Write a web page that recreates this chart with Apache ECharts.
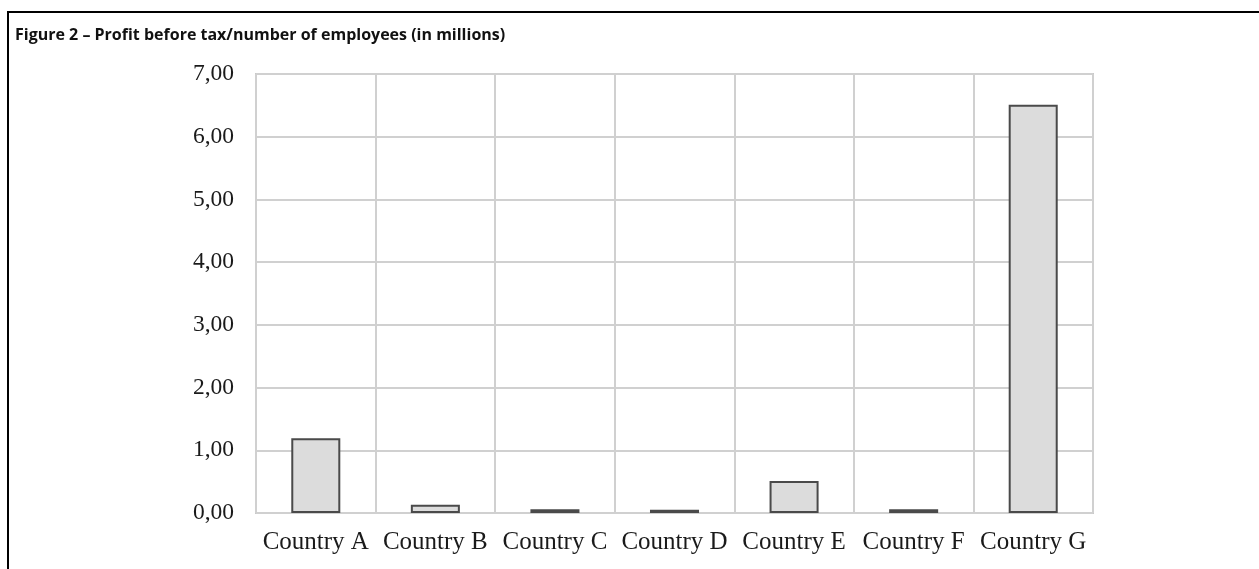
<!DOCTYPE html>
<html lang="en">
<head>
    <meta charset="UTF-8">
    <title>Figure 2</title>
    <style>
        body { margin: 0; background: #fff; }
    </style>
</head>
<body>
    <div id="main" style="width: 1259px;height:569px;"></div>
    <script src="https://cdn.jsdelivr.net/npm/echarts@6/dist/echarts.min.js"></script>
    <script>
        // data
        var countries = ['Country A', 'Country B', 'Country C', 'Country D', 'Country E', 'Country F', 'Country G'];
        var profitPerEmployee = [1.19, 0.13, 0.06, 0.05, 0.51, 0.06, 6.51];
        var yTicks = [0, 1, 2, 3, 4, 5, 6, 7];

        var myChart = echarts.init(document.getElementById('main'));

        var option = {
            backgroundColor: '#fff',
            animation: false,
            title: {
                text: 'Figure 2 \u2013 Profit before tax/number of employees (in millions)',
                left: 10,
                top: 22,
                textStyle: {
                    fontFamily: 'Open Sans',
                    fontWeight: 'bold',
                    fontSize: 16,
                    color: '#111'
                }
            },
            // frame around the figure (top and left rules)
            graphic: [
                {
                    type: 'polyline',
                    shape: { points: [[8, 569], [8, 12], [1259, 12]] },
                    style: { stroke: '#000', lineWidth: 2, fill: null }
                }
            ],
            grid: {
                left: 256,
                right: 166,
                top: 74,
                bottom: 56,
                show: true,
                borderColor: '#c8c8c8',
                borderWidth: 2
            },
            xAxis: {
                type: 'category',
                data: countries,
                boundaryGap: true,
                axisLine: { show: false },
                axisTick: { show: false },
                splitLine: { show: true, lineStyle: { color: '#d0d0d0', width: 2 } },
                axisLabel: {
                    margin: 17,
                    interval: 0,
                    fontFamily: 'Liberation Serif',
                    fontSize: 25,
                    color: '#1a1a1a'
                }
            },
            yAxis: {
                type: 'value',
                min: yTicks[0],
                max: yTicks[yTicks.length - 1],
                interval: 1,
                axisLine: { show: false },
                axisTick: { show: false },
                splitLine: { lineStyle: { color: '#d0d0d0', width: 2 } },
                axisLabel: {
                    margin: 22,
                    fontFamily: 'Liberation Serif',
                    fontSize: 23.5,
                    color: '#1a1a1a',
                    formatter: function (v) { return v.toFixed(2).replace('.', ','); }
                }
            },
            series: [
                {
                    type: 'bar',
                    data: profitPerEmployee,
                    barWidth: '41%',
                    itemStyle: {
                        color: '#dcdcdc',
                        borderColor: '#4a4a4a',
                        borderWidth: 2
                    }
                }
            ]
        };

        myChart.setOption(option);
    </script>
</body>
</html>
